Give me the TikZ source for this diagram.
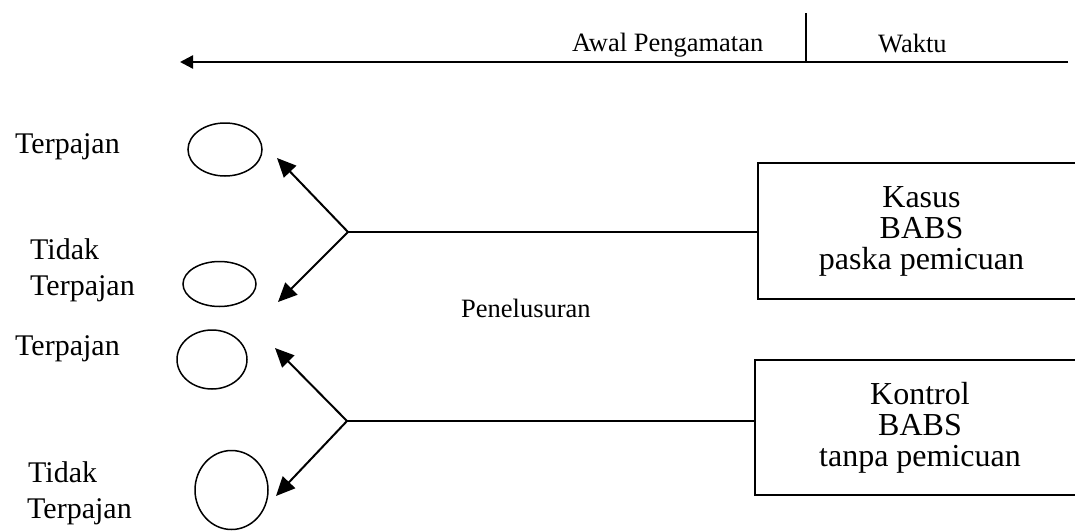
\documentclass[tikz,border=0pt]{standalone}
\usepackage{fontspec}
\setmainfont{Liberation Serif}
\usetikzlibrary{arrows.meta,shapes.geometric}

\tikzset{
  conn/.style={line width=1.5pt},
  arr/.style={line width=2pt,-{Triangle[length=19pt,width=17pt]}},
  timeline/.style={line width=2.4pt,-{Triangle[length=13pt,width=13pt]}},
  grp/.style={draw,ellipse,line width=1.5pt,inner sep=0pt},
  lbl/.style={anchor=base west,inner sep=0pt,font=\fontsize{30}{32}\selectfont},
  small/.style={anchor=base west,inner sep=0pt,font=\fontsize{26.5}{28}\selectfont},
  studybox/.style={draw,line width=1.5pt,align=center,inner sep=0pt,
    font=\fontsize{32}{31}\selectfont}
}

\begin{document}
\begin{tikzpicture}[x=1pt,y=-1pt]
\useasboundingbox (0,0) rectangle (1075,530);
\clip (0,0) rectangle (1075,530);

% time axis
\coordinate (tr) at (1068,62);
\coordinate (tl) at (180,62);
\coordinate (tickTop) at (806,13);
\coordinate (tickBot) at (806,62);
\draw[timeline] (tr) -- (tl);
\draw[line width=1.5pt] (tickTop) -- (tickBot);
\node[small] (awal) at (572,51) {Awal Pengamatan};
\node[small] (waktu) at (878,52) {Waktu};

% exposure groups
\node[grp,minimum width=74pt,minimum height=53pt] (e1) at (225,149.5) {};
\node[grp,minimum width=73pt,minimum height=45pt] (e2) at (219.5,284) {};
\node[grp,minimum width=70pt,minimum height=59pt] (e3) at (212,359.5) {};
\node[grp,minimum width=73pt,minimum height=79pt] (e4) at (231.5,490) {};

\node[lbl] (t1) at (15,153) {Terpajan};
\node[lbl] (t2a) at (30,259) {Tidak};
\node[lbl] (t2b) at (30,295) {Terpajan};
\node[lbl] (t3) at (15,355) {Terpajan};
\node[lbl] (t4a) at (28,482) {Tidak};
\node[lbl] (t4b) at (27,518) {Terpajan};

% case and control boxes
\node[studybox,minimum width=327pt,minimum height=136pt] (kasus) at (921.5,231)
  {Kasus\\BABS\\paska pemicuan};
\node[studybox,minimum width=330pt,minimum height=135pt] (kontrol) at (920,427.5)
  {Kontrol\\BABS\\tanpa pemicuan};

\node[small] (telusur) at (461,317) {Penelusuran};

% tracing back from the cases
\coordinate (j1) at (348,232);
\coordinate (a1) at (277,158);
\coordinate (a2) at (278,302);
\draw[conn] (j1) -- (j1 -| kasus.west);
\draw[arr] (j1) -- (a1);
\draw[arr] (j1) -- (a2);

% tracing back from the controls
\coordinate (j2) at (347,421);
\coordinate (a3) at (275,348);
\coordinate (a4) at (276,496);
\draw[conn] (j2) -- (j2 -| kontrol.west);
\draw[arr] (j2) -- (a3);
\draw[arr] (j2) -- (a4);
\end{tikzpicture}
\end{document}
